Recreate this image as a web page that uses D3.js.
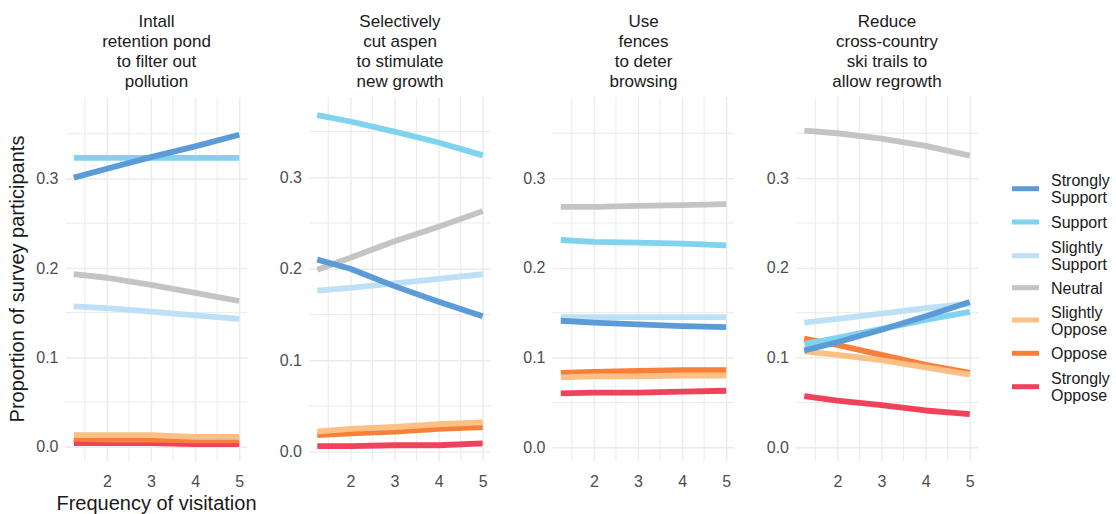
<!DOCTYPE html>
<html>
<head>
<meta charset="utf-8">
<script src="https://cdn.jsdelivr.net/npm/d3@7"></script>
<style>
  html, body { margin: 0; padding: 0; background: #ffffff; }
  svg { display: block; font-family: "Liberation Sans", Arial, sans-serif; }
</style>
</head>
<body>
<svg id="chart" width="1116" height="514"></svg>
<script>
// ---------------- DATA ----------------
const categories = ["Strongly Support", "Support", "Slightly Support", "Neutral",
                    "Slightly Oppose", "Oppose", "Strongly Oppose"];
const legendLabels = [["Strongly", "Support"], ["Support"], ["Slightly", "Support"], ["Neutral"],
                      ["Slightly", "Oppose"], ["Oppose"], ["Strongly", "Oppose"]];
const colors = ["#5b9bd8", "#7fd3ef", "#bde0f7", "#c4c4c4", "#fdc084", "#f87f3a", "#f0425a"];

const panelTitles = [
  ["Intall", "retention pond", "to filter out", "pollution"],
  ["Selectively", "cut aspen", "to stimulate", "new growth"],
  ["Use", "fences", "to deter", "browsing"],
  ["Reduce", "cross-country", "ski trails to", "allow regrowth"]
];

// frequency of visitation (x values)
const visitation = [1.25, 2, 3, 4, 5];
const xTicks = [2, 3, 4, 5];
const yTicks = [0, 0.1, 0.2, 0.3];
const yTickLabels = ["0.0", "0.1", "0.2", "0.3"];

// proportions, one row per category (same order as categories)
const pondValues = [
  [0.301, 0.311, 0.324, 0.336, 0.349],
  [0.323, 0.323, 0.323, 0.323, 0.323],
  [0.157, 0.155, 0.151, 0.147, 0.143],
  [0.193, 0.189, 0.181, 0.172, 0.163],
  [0.013, 0.013, 0.013, 0.011, 0.011],
  [0.009, 0.008, 0.008, 0.007, 0.007],
  [0.004, 0.004, 0.004, 0.003, 0.003]
];
const aspenValues = [
  [0.210, 0.200, 0.181, 0.164, 0.148],
  [0.368, 0.361, 0.350, 0.338, 0.324],
  [0.176, 0.179, 0.184, 0.189, 0.194],
  [0.199, 0.212, 0.230, 0.246, 0.263],
  [0.022, 0.025, 0.027, 0.030, 0.032],
  [0.018, 0.020, 0.022, 0.025, 0.027],
  [0.006, 0.006, 0.007, 0.007, 0.009]
];
const fenceValues = [
  [0.141, 0.139, 0.137, 0.135, 0.134],
  [0.231, 0.229, 0.228, 0.227, 0.225],
  [0.145, 0.145, 0.145, 0.145, 0.145],
  [0.268, 0.268, 0.269, 0.270, 0.271],
  [0.078, 0.079, 0.079, 0.080, 0.080],
  [0.083, 0.084, 0.085, 0.086, 0.086],
  [0.060, 0.061, 0.061, 0.062, 0.063]
];
const skiValues = [
  [0.108, 0.117, 0.131, 0.146, 0.162],
  [0.115, 0.122, 0.132, 0.142, 0.151],
  [0.139, 0.143, 0.149, 0.155, 0.160],
  [0.353, 0.350, 0.344, 0.336, 0.325],
  [0.107, 0.103, 0.097, 0.089, 0.081],
  [0.121, 0.114, 0.103, 0.092, 0.083],
  [0.057, 0.052, 0.047, 0.041, 0.037]
];
const panelValues = [pondValues, aspenValues, fenceValues, skiValues];
const yDomains = [[-0.016, 0.3912], [-0.0102, 0.3878], [-0.0153, 0.3904], [-0.0153, 0.3904]];

// ---------------- LAYOUT ----------------
const svg = d3.select("#chart");
const panelLeft0 = 65.5, panelStep = 243.5, panelW = 182;
const panelTop = 97, panelBottom = 461;
const gridCol = "#ebebeb";
const textCol = "#4d4d4d";

const xDomain = [1.0625, 5.1875];

panelValues.forEach((vals, p) => {
  const left = panelLeft0 + p * panelStep;
  const x = d3.scaleLinear().domain(xDomain).range([left, left + panelW]);
  const y = d3.scaleLinear().domain(yDomains[p]).range([panelBottom, panelTop]);
  const g = svg.append("g");

  // minor grid
  const xMinor = [1.5, 2.5, 3.5, 4.5];
  const yMinor = [0.05, 0.15, 0.25, 0.35];
  g.selectAll(".xminor").data(xMinor).join("line")
    .attr("x1", d => x(d)).attr("x2", d => x(d))
    .attr("y1", panelTop).attr("y2", panelBottom)
    .attr("stroke", gridCol).attr("stroke-width", 1);
  g.selectAll(".yminor").data(yMinor).join("line")
    .attr("x1", left).attr("x2", left + panelW)
    .attr("y1", d => y(d)).attr("y2", d => y(d))
    .attr("stroke", gridCol).attr("stroke-width", 1);

  // major grid via axes
  const xAxis = d3.axisBottom(x).tickValues(xTicks).tickSize(-(panelBottom - panelTop)).tickPadding(15)
    .tickFormat(d3.format("d"));
  const gx = g.append("g").attr("transform", `translate(0,${panelBottom})`).call(xAxis);
  gx.select(".domain").remove();
  gx.selectAll(".tick line").attr("stroke", gridCol).attr("stroke-width", 1.4);
  gx.selectAll(".tick text").attr("fill", textCol).attr("font-size", 16)
    .attr("font-family", "Liberation Sans, Arial, sans-serif");

  const yAxis = d3.axisLeft(y).tickValues(yTicks).tickSize(-panelW).tickPadding(7)
    .tickFormat((d, i) => yTickLabels[i]);
  const gy = g.append("g").attr("transform", `translate(${left},0)`).call(yAxis);
  gy.select(".domain").remove();
  gy.selectAll(".tick line").attr("stroke", gridCol).attr("stroke-width", 1.4);
  gy.selectAll(".tick text").attr("fill", textCol).attr("font-size", 16)
    .attr("font-family", "Liberation Sans, Arial, sans-serif");

  // lines (drawn from Strongly Oppose up to Strongly Support)
  const line = d3.line().x((d, i) => x(visitation[i])).y(d => y(d));
  const order = d3.range(categories.length).reverse();
  order.forEach(ci => {
    g.append("path")
      .datum(vals[ci])
      .attr("d", line)
      .attr("fill", "none")
      .attr("stroke", colors[ci])
      .attr("stroke-width", 5.8)
      .attr("stroke-linejoin", "round")
      .attr("stroke-linecap", "butt");
  });

  // title
  const t = svg.append("text")
    .attr("text-anchor", "middle")
    .attr("font-size", 17)
    .attr("fill", "#1a1a1a");
  panelTitles[p].forEach((ln, i) => {
    t.append("tspan").attr("x", left + panelW / 2).attr("y", 27 + i * 20).text(ln);
  });
});

// axis titles
svg.append("text")
  .attr("transform", `translate(24,${(panelTop + panelBottom) / 2}) rotate(-90)`)
  .attr("text-anchor", "middle")
  .attr("font-size", 20)
  .attr("fill", "#1a1a1a")
  .text("Proportion of survey participants");

svg.append("text")
  .attr("x", panelLeft0 + panelW / 2)
  .attr("y", 510)
  .attr("text-anchor", "middle")
  .attr("font-size", 20)
  .attr("fill", "#1a1a1a")
  .text("Frequency of visitation");

// legend
const legendKeyY = [188.7, 222, 255.7, 287.7, 320, 353.3, 386.7];
const lg = svg.append("g");
categories.forEach((c, i) => {
  const ky = legendKeyY[i];
  lg.append("line")
    .attr("x1", 1012).attr("x2", 1039)
    .attr("y1", ky).attr("y2", ky)
    .attr("stroke", colors[i]).attr("stroke-width", 5);
  const lines = legendLabels[i];
  const txt = lg.append("text").attr("font-size", 16).attr("fill", "#1a1a1a");
  const n = lines.length;
  lines.forEach((ln, j) => {
    txt.append("tspan")
      .attr("x", 1051)
      .attr("y", ky + (j - (n - 1) / 2) * 17 + 6)
      .text(ln);
  });
});
</script>
</body>
</html>
